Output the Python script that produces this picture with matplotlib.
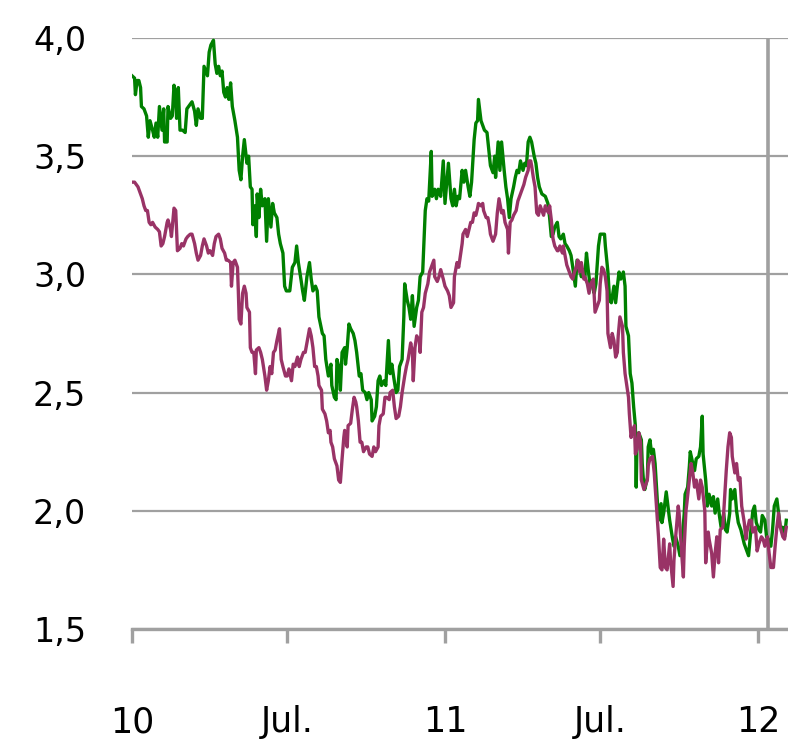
import pandas as pd
import matplotlib
matplotlib.use("Agg")
import matplotlib.pyplot as plt

START = pd.Timestamp("2010-01-01")
END = pd.Timestamp("2012-02-05")
MARKER_DATE = pd.Timestamp("2012-01-13")  # linea vertical gris

GREEN = "#008000"
PURPLE = "#993366"
GRID_GRAY = "#a0a0a0"

# dias desde el 1-ene-2010 y valores
green_days = [0, 3, 4, 6, 8, 10, 11, 14, 17, 19, 21, 24, 26, 28, 30, 32, 35, 37, 38, 41,
              42, 45, 47, 49, 51, 52, 54, 56, 59, 62, 64, 68, 70, 73, 75, 77, 80, 82, 84, 86,
              88, 90, 92, 95, 97, 99, 101, 103, 105, 107, 109, 111, 113, 115, 117, 120,
              123, 125, 127, 129, 131, 134, 136, 138, 140, 141, 143, 145, 146, 148, 150, 152,
              155, 157, 159, 162, 164, 166, 169, 171, 173, 176, 178, 180, 184, 187, 190, 192,
              194, 197, 199, 201, 204, 207, 209, 211, 214, 216, 218, 222, 224, 226, 229, 232,
              233, 236, 238, 239, 241,
              243, 245, 248, 249, 251, 253, 255, 258, 260, 262, 265, 267, 269, 272, 274, 276,
              279, 280, 283, 285, 287, 289, 291, 294, 296, 299, 301, 303, 305, 308, 310, 312,
              315, 317, 318, 321, 323, 325, 327, 329, 332, 334, 336, 339, 341, 342, 344, 346,
              349, 350, 353, 355, 357, 360,
              363, 365, 369, 372, 374, 376, 378, 380, 382, 385, 387, 389, 392, 394, 396, 399,
              401, 403, 404, 407, 409, 411, 414, 416, 418, 421, 423, 424, 427, 429, 431, 434,
              436, 438, 440, 442, 445, 447, 449, 451, 453, 456, 458, 460, 462, 464, 466, 469,
              471, 473, 475, 478, 482, 485, 487,
              489, 491, 493, 496, 498, 500, 503, 505, 507, 510, 512, 514, 517, 519, 521, 524,
              526, 528, 530, 532, 534, 537, 539, 541, 544, 546, 548, 551, 552, 555, 557, 559,
              562, 564, 566, 568, 570, 573, 575, 576, 579, 581, 583, 585, 587, 588, 589, 591,
              594, 595, 597, 598, 601, 602,
              604, 606, 608, 610, 613, 614, 617, 618, 620, 623, 625, 627, 630, 632, 634, 637,
              639, 641, 644, 645, 648, 650, 651, 654, 656, 658, 661, 663, 665, 666, 669, 671,
              673, 676, 678, 680, 683, 685, 687, 690, 692, 694, 697, 698, 700, 703, 705, 707,
              710, 712, 714, 717, 719, 721, 724, 726, 728, 731, 733, 735, 738, 740, 742, 745,
              747, 749, 752, 754, 756, 759, 761, 763]
green_vals = [3.84, 3.83, 3.76, 3.82, 3.82, 3.79, 3.71, 3.70, 3.67, 3.58, 3.65, 3.61, 3.58, 3.64,
              3.58, 3.71, 3.61, 3.70, 3.56, 3.56, 3.71, 3.66, 3.67, 3.80, 3.75, 3.66, 3.79, 3.61,
              3.61, 3.60, 3.70, 3.72, 3.73, 3.69, 3.63, 3.70, 3.66, 3.66, 3.88, 3.86, 3.84, 3.94,
              3.97, 3.99, 3.89, 3.85, 3.88, 3.84, 3.86, 3.77, 3.75, 3.79, 3.74, 3.81, 3.71, 3.65,
              3.58, 3.44, 3.40, 3.50, 3.57, 3.47, 3.50, 3.37, 3.36, 3.21, 3.29, 3.16, 3.34, 3.24,
              3.36, 3.29, 3.32, 3.14, 3.32, 3.20, 3.30, 3.26, 3.24, 3.17, 3.13, 3.09, 2.95, 2.93,
              2.93, 3.03, 3.05, 3.12, 3.05, 2.98, 2.93, 2.89, 2.99, 3.05, 2.98, 2.93, 2.95, 2.93,
              2.82, 2.75, 2.74, 2.64, 2.57, 2.62, 2.53, 2.48, 2.47, 2.64, 2.61,
              2.51, 2.67, 2.69, 2.62, 2.69, 2.79, 2.77, 2.75, 2.72, 2.67, 2.57, 2.58, 2.51, 2.50,
              2.47, 2.50, 2.47, 2.38, 2.40, 2.44, 2.55, 2.57, 2.53, 2.55, 2.53, 2.72, 2.58, 2.62,
              2.57, 2.50, 2.51, 2.61, 2.64, 2.82, 2.96, 2.89, 2.86, 2.81, 2.91, 2.78, 2.86, 2.89,
              2.99, 3.01, 3.19, 3.27, 3.32, 3.31, 3.52, 3.33, 3.36, 3.32, 3.36, 3.33,
              3.48, 3.30, 3.47, 3.32, 3.29, 3.36, 3.29, 3.33, 3.32, 3.44, 3.39, 3.44, 3.37, 3.33,
              3.39, 3.57, 3.64, 3.65, 3.74, 3.65, 3.63, 3.61, 3.60, 3.53, 3.46, 3.43, 3.50, 3.41,
              3.56, 3.44, 3.56, 3.44, 3.37, 3.32, 3.24, 3.32, 3.37, 3.41, 3.44, 3.43, 3.48, 3.44,
              3.47, 3.46, 3.56, 3.58, 3.56, 3.50, 3.47, 3.41, 3.37, 3.34, 3.33, 3.30, 3.24,
              3.16, 3.17, 3.20, 3.22, 3.16, 3.15, 3.17, 3.13, 3.12, 3.10, 3.08, 3.03, 2.95, 3.06,
              3.05, 2.99, 3.02, 2.99, 3.09, 3.02, 2.96, 2.95, 2.92, 2.96, 3.12, 3.17, 3.17, 3.17,
              3.12, 3.01, 2.89, 2.88, 2.95, 2.88, 2.95, 3.01, 2.98, 3.01, 2.95, 2.78, 2.74, 2.58,
              2.54, 2.44, 2.36, 2.10, 2.30, 2.33, 2.30, 2.20, 2.10, 2.09, 2.14, 2.27,
              2.30, 2.24, 2.26, 2.20, 2.02, 1.96, 2.03, 1.95, 1.99, 2.08, 2.02, 1.96, 1.89, 1.85,
              1.89, 1.85, 1.81, 1.85, 1.99, 2.07, 2.10, 2.19, 2.25, 2.20, 2.17, 2.22, 2.23, 2.27,
              2.40, 2.24, 2.13, 2.02, 2.07, 2.02, 2.06, 1.99, 2.05, 1.98, 1.93, 1.99, 1.92, 1.91,
              1.99, 2.09, 2.05, 2.09, 2.00, 1.95, 1.92, 1.89, 1.86, 1.83, 1.81, 1.89, 2.00, 2.02,
              1.95, 1.92, 1.91, 1.98, 1.96, 1.89, 1.88, 1.85, 1.92, 2.02, 2.05, 1.99, 1.93, 1.93,
              1.89, 1.96]

purple_days = [0, 3, 7, 10, 12, 14, 16, 18, 20, 22, 24, 27, 30, 32, 34, 36, 38, 41, 42, 45,
               46, 49, 51, 53, 56, 58, 60, 63, 65, 68, 70, 73, 75, 77, 80, 82, 84, 87, 89, 91,
               94, 96, 98, 101, 103, 105, 108, 110, 112, 115, 116, 118, 120,
               123, 124, 125, 127, 129, 131, 133, 134, 137, 138, 140, 142, 144, 145, 148, 150,
               152, 155, 157, 159, 161, 163, 165, 167, 169, 172, 174, 176, 179, 181, 183, 186,
               188, 190, 193, 195, 197, 200, 202, 204, 207, 209, 211, 213, 215, 217, 218, 221,
               222, 225, 227, 229, 231, 232, 234, 236,
               239, 241, 243, 245, 247, 248, 251, 252, 255, 257, 259, 261, 262, 264, 266, 268,
               270, 273, 275, 277, 280, 282, 284, 287, 288, 290, 293, 295, 297, 300, 301, 304,
               306, 308, 311, 313, 315, 318, 320, 322, 325, 327, 328, 330, 332, 335, 336, 338,
               340, 342, 345, 347, 349, 352, 353, 356, 358, 360, 363,
               365, 368, 370, 372, 375, 376, 379, 381, 383, 385, 386, 389, 391, 393, 395, 397,
               399, 401, 403, 404, 407, 409, 410, 413, 415, 417, 418, 421, 422, 424, 426, 428,
               429, 431, 433, 435, 438, 439, 441, 443, 445, 448, 450, 452, 455, 457, 459, 462,
               463, 465, 466, 468, 470, 472, 474, 476, 478, 480, 482, 484, 486, 487,
               489, 491, 493, 496, 497, 499, 502, 503, 506, 507, 510, 512, 514, 516, 518, 520,
               522, 524, 527, 528, 531, 533, 535, 538, 540, 542, 545, 546, 548, 550, 552, 554,
               555, 558, 560, 562, 564, 566, 567, 569, 572, 573, 575, 577, 579, 580, 582, 583,
               586, 587, 589, 591, 593, 594, 597, 598, 601, 602,
               604, 607, 609, 612, 614, 616, 618, 620, 622, 624, 627, 628, 631, 632, 634, 637,
               638, 641, 643, 644, 646, 647, 650, 652, 654, 656, 658, 661, 663, 665, 668, 669,
               672, 673, 676, 678, 680, 682, 684, 686, 689, 690, 693, 695, 697, 699, 700, 703,
               705, 707, 709, 711, 714, 716, 717, 720, 722, 724, 727, 729, 731, 734, 736, 738,
               741, 743, 745, 748, 750, 752, 754, 756, 759, 761, 763]
purple_vals = [3.39, 3.39, 3.37, 3.34, 3.32, 3.29, 3.27, 3.27, 3.22, 3.21, 3.22, 3.20, 3.19, 3.18,
               3.12, 3.13, 3.16, 3.22, 3.23, 3.19, 3.16, 3.28, 3.27, 3.10, 3.11, 3.13, 3.12, 3.15,
               3.16, 3.17, 3.17, 3.13, 3.09, 3.06, 3.08, 3.12, 3.15, 3.12, 3.09, 3.10, 3.08, 3.13,
               3.16, 3.17, 3.15, 3.11, 3.09, 3.06, 3.06, 3.05, 2.95, 3.05, 3.06,
               3.03, 2.93, 2.81, 2.79, 2.92, 2.95, 2.92, 2.86, 2.84, 2.69, 2.67, 2.67, 2.58, 2.68,
               2.69, 2.67, 2.64, 2.57, 2.51, 2.55, 2.61, 2.58, 2.67, 2.68, 2.72, 2.77, 2.64, 2.61,
               2.57, 2.57, 2.60, 2.55, 2.62, 2.61, 2.65, 2.61, 2.64, 2.67, 2.67, 2.71, 2.77, 2.74,
               2.69, 2.61, 2.61, 2.57, 2.53, 2.51, 2.43, 2.41, 2.38, 2.33, 2.34, 2.29, 2.27, 2.22,
               2.19, 2.13, 2.12, 2.22, 2.31, 2.34, 2.27, 2.36, 2.37, 2.43, 2.48, 2.46, 2.44, 2.38,
               2.29, 2.29, 2.25, 2.27, 2.27, 2.24, 2.23, 2.27, 2.25, 2.27, 2.36, 2.40, 2.41, 2.48,
               2.48, 2.47, 2.50, 2.51, 2.44, 2.39, 2.40, 2.44, 2.50, 2.57, 2.61, 2.64, 2.71, 2.67,
               2.55, 2.69, 2.74, 2.72, 2.67, 2.84, 2.86, 2.92, 2.96, 3.01, 3.03, 3.06, 2.99, 2.97,
               2.99, 3.02, 2.98,
               2.95, 2.93, 2.91, 2.86, 2.88, 2.99, 3.05, 3.03, 3.08, 3.13, 3.17, 3.19, 3.16, 3.19,
               3.22, 3.22, 3.26, 3.25, 3.28, 3.30, 3.29, 3.30, 3.27, 3.24, 3.24, 3.20, 3.17, 3.14,
               3.15, 3.17, 3.26, 3.32, 3.30, 3.26, 3.27, 3.22, 3.19, 3.09, 3.22, 3.23, 3.25, 3.27,
               3.31, 3.33, 3.36, 3.38, 3.41, 3.44, 3.48, 3.48, 3.46, 3.41, 3.37, 3.26, 3.25, 3.29,
               3.27, 3.25, 3.29, 3.27, 3.26, 3.29,
               3.23, 3.15, 3.12, 3.10, 3.10, 3.12, 3.09, 3.12, 3.06, 3.04, 3.01, 2.99, 2.98, 3.01,
               3.03, 3.06, 3.01, 3.05, 2.98, 2.99, 2.96, 2.92, 2.96, 2.98, 2.84, 2.86, 2.89, 2.96,
               3.03, 3.02, 2.99, 2.93, 2.75, 2.69, 2.75, 2.72, 2.65, 2.67, 2.74, 2.82, 2.78, 2.67,
               2.58, 2.53, 2.48, 2.41, 2.31, 2.33, 2.36, 2.24, 2.26, 2.33, 2.29, 2.13, 2.09, 2.10,
               2.13, 2.19,
               2.22, 2.23, 2.16, 2.00, 1.89, 1.76, 1.75, 1.88, 1.76, 1.75, 1.86, 1.79, 1.68, 1.79,
               1.89, 2.02, 1.99, 1.82, 1.72, 1.85, 2.00, 2.03, 2.13, 2.20, 2.16, 2.10, 2.13, 2.05,
               2.13, 2.10, 2.00, 1.78, 1.91, 1.88, 1.82, 1.72, 1.82, 1.89, 1.78, 1.92, 1.93, 1.99,
               2.17, 2.27, 2.33, 2.31, 2.23, 2.16, 2.20, 2.13, 2.14, 2.02, 1.95, 1.88, 1.91, 1.96,
               1.96, 1.91, 1.93, 1.83, 1.86, 1.89, 1.88, 1.85, 1.89, 1.82, 1.76, 1.76, 1.85, 1.93,
               1.99, 1.93, 1.89, 1.88, 1.93]

y_ticks = [1.5, 2.0, 2.5, 3.0, 3.5, 4.0]
y_labels = ["1,5", "2,0", "2,5", "3,0", "3,5", "4,0"]
x_ticks = pd.to_datetime(["2010-01-01", "2010-07-01", "2011-01-01", "2011-07-01", "2012-01-01"])
x_labels = ["10", "Jul.", "11", "Jul.", "12"]

green_dates = START + pd.to_timedelta(green_days, unit="D")
purple_dates = START + pd.to_timedelta(purple_days, unit="D")

plt.rcParams["font.family"] = ["DejaVu Sans"]

fig = plt.figure(figsize=(7.88, 7.44), dpi=100)
ax = fig.add_axes([0.1675, 0.1546, 0.8325, 0.7944])

ax.plot(green_dates, green_vals, color=GREEN, lw=2.4, solid_joinstyle="round", zorder=3)
ax.plot(purple_dates, purple_vals, color=PURPLE, lw=2.4, solid_joinstyle="round", zorder=4)
ax.axvline(MARKER_DATE, color=GRID_GRAY, lw=2.6, zorder=2)

ax.set_xlim(START, END)
ax.set_ylim(1.5, 4.0)
ax.set_yticks(y_ticks, y_labels)
ax.set_xticks(x_ticks, x_labels)

ax.yaxis.grid(True, color=GRID_GRAY, lw=1.6)
ax.set_axisbelow(True)
for side in ["top", "right", "left"]:
    ax.spines[side].set_visible(False)
ax.spines["bottom"].set_color(GRID_GRAY)
ax.spines["bottom"].set_linewidth(2.4)

ax.tick_params(axis="y", length=0, pad=33, labelsize=24)
ax.tick_params(axis="x", direction="out", length=10, width=2.4, color=GRID_GRAY,
               pad=45, labelsize=25)

fig.savefig("out.png", dpi=100)
